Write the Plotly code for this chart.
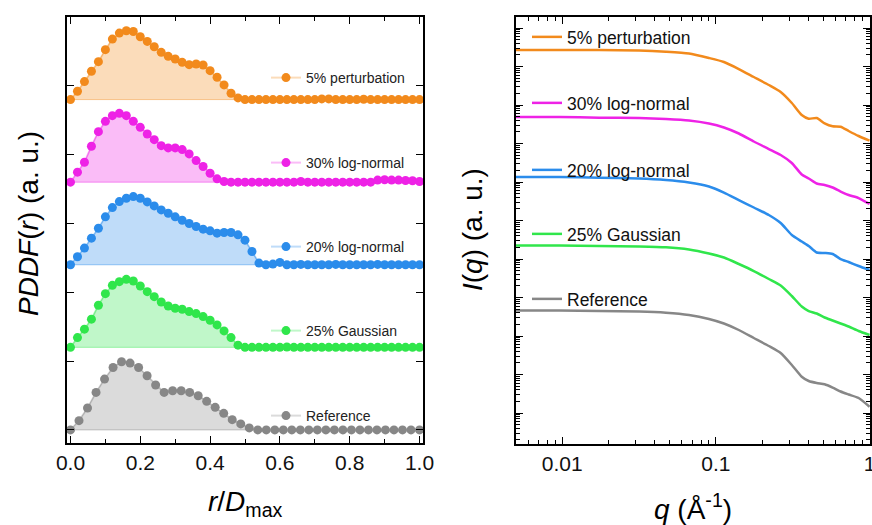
import plotly.graph_objects as go

# ---------------- data: left panel (normalised PDDF) ----------------
r_fine = [0.00, 0.02, 0.04, 0.06, 0.08, 0.10, 0.12, 0.14, 0.16, 0.18, 0.20, 0.22, 0.24, 0.26,
          0.28, 0.30, 0.32, 0.34, 0.36, 0.38, 0.40, 0.42, 0.44, 0.46, 0.48, 0.50, 0.52, 0.54,
          0.56, 0.58, 0.60, 0.62, 0.64, 0.66, 0.68, 0.70, 0.72, 0.74, 0.76, 0.78, 0.80, 0.82,
          0.84, 0.86, 0.88, 0.90, 0.92, 0.94, 0.96, 0.98, 1.00]
r_ref = [0.0, 0.0244, 0.0488, 0.0732, 0.0976, 0.122, 0.1463, 0.1707, 0.1951, 0.2195, 0.2439,
         0.2683, 0.2927, 0.3171, 0.3415, 0.3659, 0.3902, 0.4146, 0.439, 0.4634, 0.4878, 0.5122,
         0.5366, 0.561, 0.5854, 0.6098, 0.6341, 0.6585, 0.6829, 0.7073, 0.7317, 0.7561, 0.7805,
         0.8049, 0.8293, 0.8537, 0.878, 0.9024, 0.9268, 0.9512, 0.9756, 1.0]

pddf_reference = [0, 0.135, 0.319, 0.545, 0.739, 0.907, 0.99, 0.971, 0.907, 0.787, 0.652, 0.545,
                  0.570, 0.570, 0.545, 0.497, 0.415, 0.328, 0.241, 0.149, 0.087, 0.029,
                  0, 0, 0, 0, 0, 0, 0, 0, 0, 0, 0, 0, 0, 0, 0, 0, 0, 0, 0, 0]
pddf_gauss25 = [0, 0.142, 0.264, 0.409, 0.612, 0.780, 0.901, 0.954, 0.988, 0.964, 0.891, 0.809,
                0.736, 0.659, 0.601, 0.568, 0.553, 0.519, 0.490, 0.447, 0.394, 0.326, 0.239,
                0.142, 0.032, 0, 0, 0, 0, 0, 0, 0.005, 0, 0, 0, 0, 0, 0, 0, 0, 0, 0, 0, 0, 0,
                0, 0, 0, 0, 0, 0]
pddf_lognorm20 = [0, 0.116, 0.242, 0.386, 0.531, 0.696, 0.831, 0.918, 0.966, 0.99, 0.966, 0.913,
                  0.855, 0.797, 0.749, 0.696, 0.647, 0.599, 0.556, 0.517, 0.493, 0.459, 0.469,
                  0.469, 0.435, 0.357, 0.193, 0.024, 0, 0.01, 0.034, 0, 0, 0.005, 0, 0, 0, 0,
                  0.005, 0, 0, 0, 0, 0, 0.005, 0, 0, 0, 0, 0, 0]
pddf_lognorm30 = [0, 0.145, 0.29, 0.522, 0.734, 0.884, 0.966, 1.0, 0.966, 0.884, 0.797, 0.700,
                  0.618, 0.531, 0.498, 0.498, 0.473, 0.411, 0.314, 0.227, 0.13, 0.048, 0.01,
                  0, 0, 0, 0, 0, 0, 0, 0, 0, 0, 0.01, 0, 0, 0, 0, 0, 0, 0, 0, 0, 0,
                  0.03, 0.035, 0.03, 0.03, 0.025, 0.02, 0.01, 0.0]
pddf_pert5 = [0, 0.121, 0.261, 0.411, 0.551, 0.725, 0.879, 0.966, 1.0, 0.99, 0.913, 0.845, 0.768,
              0.686, 0.628, 0.589, 0.541, 0.507, 0.517, 0.502, 0.42, 0.324, 0.213, 0.092, 0.024,
              0, 0, 0, 0, 0, 0, 0, 0, 0, 0, 0, 0.01, 0.01, 0, 0, 0, 0, 0.005, 0, 0, 0, 0, 0,
              0, 0, 0]

# ---------------- data: right panel (log10 of intensity) ----------------
q = [0.005, 0.0096, 0.0174, 0.0316, 0.0473, 0.0668, 0.0901, 0.1128, 0.141, 0.1765, 0.221,
     0.264, 0.312, 0.362, 0.402, 0.453, 0.510, 0.575, 0.648, 0.731, 0.849, 1.0]
logI_pert5 = [9.429, 9.429, 9.429, 9.416, 9.384, 9.338, 9.221, 9.117, 8.935, 8.727, 8.519,
              8.338, 8.052, 7.740, 7.644, 7.662, 7.525, 7.447, 7.436, 7.325, 7.195, 7.073]
logI_lognorm30 = [7.688, 7.688, 7.670, 7.662, 7.636, 7.597, 7.519, 7.416, 7.260, 7.052, 6.857,
                  6.701, 6.494, 6.195, 6.091, 5.961, 5.922, 5.857, 5.753, 5.662, 5.584, 5.429]
logI_lognorm20 = [6.130, 6.130, 6.112, 6.091, 6.052, 5.987, 5.883, 5.727, 5.532, 5.338, 5.143,
                  4.935, 4.623, 4.455, 4.338, 4.169, 4.156, 4.130, 4.000, 3.922, 3.818, 3.714]
logI_gauss25 = [4.351, 4.351, 4.338, 4.325, 4.304, 4.247, 4.143, 4.039, 3.870, 3.688, 3.481,
                3.312, 3.039, 2.766, 2.649, 2.584, 2.481, 2.403, 2.325, 2.247, 2.130, 2.026]
logI_reference = [2.662, 2.662, 2.649, 2.636, 2.605, 2.545, 2.442, 2.325, 2.156, 1.948, 1.740,
                  1.558, 1.247, 0.943, 0.831, 0.779, 0.748, 0.662, 0.558, 0.481, 0.390, 0.164]

names = ["5% perturbation", "30% log-normal", "20% log-normal", "25% Gaussian", "Reference"]

# ---------------- styling ----------------
colors = ["#F28A1C", "#EE22E6", "#2B8CEB", "#30E64B", "#878787"]
rgb = [(242, 138, 28), (238, 34, 230), (43, 140, 235), (48, 230, 75), (135, 135, 135)]
offsets = [4.8, 3.6, 2.4, 1.2, 0.0]
left_series = [(r_fine, pddf_pert5), (r_fine, pddf_lognorm30), (r_fine, pddf_lognorm20),
               (r_fine, pddf_gauss25), (r_ref, pddf_reference)]
right_series = [logI_pert5, logI_lognorm30, logI_lognorm20, logI_gauss25, logI_reference]
left_leg_px = [78, 163, 247, 331, 416]
right_leg_px = [37, 103, 170, 234, 299]

W, H = 872, 525
FONT = "Arial, Liberation Sans, sans-serif"

fig = go.Figure()

for k in range(5):
    xs, vals = left_series[k]
    off = offsets[k]
    r_, g_, b_ = rgb[k]
    # fill area: from start to where curve returns to baseline after the peak
    peak = vals.index(max(vals))
    end = peak
    while end < len(vals) - 1 and vals[end] > 0:
        end += 1
    fx = list(xs[:end + 1]) + [xs[end], xs[0]]
    fy = [v + off for v in vals[:end + 1]] + [off, off]
    fig.add_trace(go.Scatter(
        x=fx, y=fy, fill="toself", mode="lines",
        fillcolor=f"rgba({r_},{g_},{b_},0.30)",
        line=dict(color=f"rgba({r_},{g_},{b_},0.45)", width=1),
        showlegend=False, hoverinfo="skip", xaxis="x", yaxis="y"))
    fig.add_trace(go.Scatter(
        x=xs, y=[v + off for v in vals], mode="lines+markers", name=names[k],
        line=dict(color=f"rgba({r_},{g_},{b_},0.30)", width=2),
        marker=dict(color=colors[k], size=9),
        legend="legend" if k == 0 else f"legend{k + 1}",
        xaxis="x", yaxis="y"))

for k in range(5):
    fig.add_trace(go.Scatter(
        x=q, y=[10 ** v for v in right_series[k]], mode="lines", name=names[k],
        line=dict(color=colors[k], width=2.5, shape="spline", smoothing=0.6),
        legend=f"legend{k + 6}", xaxis="x2", yaxis="y2"))

px_x = lambda p: p / W
px_y = lambda p: 1 - p / H

ax_common = dict(showline=True, linecolor="black", linewidth=1.6, mirror="allticks",
                 ticks="inside", tickcolor="black", tickwidth=1.4, showgrid=False,
                 zeroline=False, automargin=False, ticklabeloverflow="allow",
                 tickfont=dict(family=FONT, size=21, color="#111"))

layout = dict(
    width=W, height=H, margin=dict(l=0, r=0, t=0, b=0, autoexpand=False),
    paper_bgcolor="white", plot_bgcolor="white",
    font=dict(family=FONT, color="black"),
    xaxis=dict(domain=[px_x(67), px_x(423)], range=[-0.01, 1.01], dtick=0.2, tick0=0,
               tickformat=".1f", ticklen=7,
               minor=dict(ticks="inside", dtick=0.1, ticklen=4, tickcolor="black", tickwidth=1.4),
               anchor="y", **ax_common),
    yaxis=dict(domain=[px_y(443), px_y(17)], range=[-0.19, 6.0], dtick=1, tick0=0,
               ticklen=7, showticklabels=False, anchor="x", **ax_common),
    xaxis2=dict(domain=[px_x(516), px_x(870)], type="log", range=[-2.301, 0.003],
                tickvals=[0.01, 0.1, 1], ticktext=["0.01", "0.1", "1"], ticklen=7,
                minor=dict(ticks="inside", dtick="D1", ticklen=4, tickcolor="black", tickwidth=1.2),
                anchor="y2", **ax_common),
    yaxis2=dict(domain=[px_y(444), px_y(17)], type="log", range=[-0.805, 10.286], dtick=1,
                ticklen=7, showticklabels=False,
                minor=dict(ticks="inside", dtick="D1", ticklen=4, tickcolor="black", tickwidth=1.2),
                anchor="x2", **ax_common),
)

for k in range(5):
    key = "legend" if k == 0 else f"legend{k + 1}"
    layout[key] = dict(x=px_x(266), y=px_y(left_leg_px[k]), xanchor="left", yanchor="middle",
                       bgcolor="rgba(0,0,0,0)", font=dict(family=FONT, size=14, color="#222"))
for k in range(5):
    layout[f"legend{k + 6}"] = dict(x=px_x(527), y=px_y(right_leg_px[k]), xanchor="left",
                                    yanchor="middle", bgcolor="rgba(0,0,0,0)",
                                    font=dict(family=FONT, size=17.5, color="#111"))

fig.update_layout(**layout)

title_font = dict(family=FONT, size=28, color="black")
fig.add_annotation(text="<i>r</i>/<i>D</i><sub>max</sub>", x=px_x(245), y=px_y(503),
                   xref="paper", yref="paper", showarrow=False, font=title_font,
                   xanchor="center", yanchor="middle")
fig.add_annotation(text="<i>PDDF</i>(<i>r</i>) (a. u.)", x=px_x(28), y=px_y(224),
                   xref="paper", yref="paper", showarrow=False, font=title_font,
                   textangle=-90, xanchor="center", yanchor="middle")
fig.add_annotation(text="<i>I</i>(<i>q</i>) (a. u.)", x=px_x(472), y=px_y(230),
                   xref="paper", yref="paper", showarrow=False, font=title_font,
                   textangle=-90, xanchor="center", yanchor="middle")
fig.add_annotation(text="<i>q</i> (Å<sup>-1</sup>)", x=px_x(693), y=px_y(507),
                   xref="paper", yref="paper", showarrow=False, font=title_font,
                   xanchor="center", yanchor="middle")

fig.write_html("out.html")
